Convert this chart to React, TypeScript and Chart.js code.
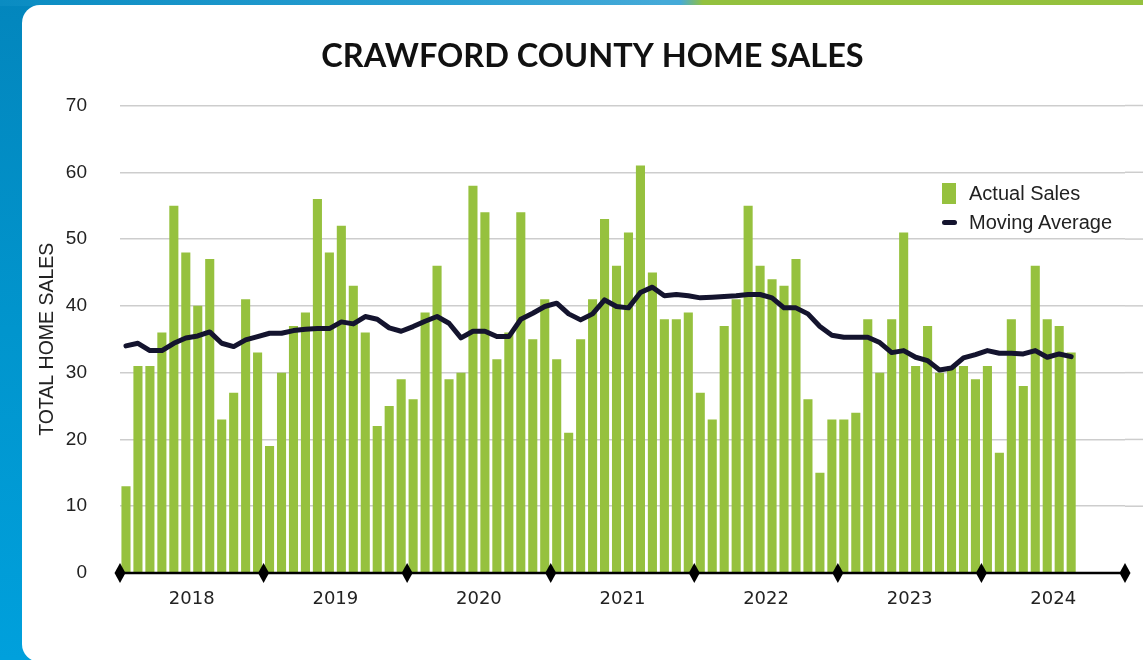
import React, { useEffect, useRef } from "react";
import { Chart, registerables } from "chart.js";

Chart.register(...registerables);

const chartTitle = "CRAWFORD COUNTY HOME SALES";
const yAxisTitle = "TOTAL HOME SALES";
const seriesNames = ["Actual Sales", "Moving Average"];
const years = ["2018", "2019", "2020", "2021", "2022", "2023", "2024"];
const monthNames = ["Jan", "Feb", "Mar", "Apr", "May", "Jun", "Jul", "Aug", "Sep", "Oct", "Nov", "Dec"];
const yTicks = [0, 10, 20, 30, 40, 50, 60, 70];

const sales2018 = [13, 31, 31, 36, 55, 48, 40, 47, 23, 27, 41, 33];
const sales2019 = [19, 30, 37, 39, 56, 48, 52, 43, 36, 22, 25, 29];
const sales2020 = [26, 39, 46, 29, 30, 58, 54, 32, 36, 54, 35, 41];
const sales2021 = [32, 21, 35, 41, 53, 46, 51, 61, 45, 38, 38, 39];
const sales2022 = [27, 23, 37, 41, 55, 46, 44, 43, 47, 26, 15, 23];
const sales2023 = [23, 24, 38, 30, 38, 51, 31, 37, 30, 31, 31, 29];
const sales2024 = [31, 18, 38, 28, 46, 38, 37, 33];

const avg2018 = [34.0, 34.4, 33.3, 33.3, 34.4, 35.2, 35.5, 36.1, 34.4, 33.9, 34.9, 35.4];
const avg2019 = [35.9, 35.9, 36.3, 36.5, 36.6, 36.6, 37.6, 37.3, 38.4, 38.0, 36.7, 36.2];
const avg2020 = [36.9, 37.7, 38.4, 37.4, 35.2, 36.2, 36.2, 35.4, 35.4, 38.0, 38.9, 39.9];
const avg2021 = [40.4, 38.8, 37.9, 38.8, 40.9, 39.9, 39.7, 42.0, 42.8, 41.5, 41.7, 41.5];
const avg2022 = [41.2, 41.3, 41.4, 41.5, 41.7, 41.7, 41.2, 39.7, 39.7, 38.8, 36.9, 35.6];
const avg2023 = [35.3, 35.3, 35.3, 34.5, 33.0, 33.3, 32.3, 31.8, 30.4, 30.7, 32.2, 32.7];
const avg2024 = [33.3, 32.9, 32.9, 32.8, 33.3, 32.3, 32.8, 32.4];

const actualSales = [...sales2018, ...sales2019, ...sales2020, ...sales2021, ...sales2022, ...sales2023, ...sales2024];
const movingAverage = [...avg2018, ...avg2019, ...avg2020, ...avg2021, ...avg2022, ...avg2023, ...avg2024];
const categories = years.flatMap((y) => monthNames.map((m) => `${m} ${y}`));

const GREEN = "#96c13e";
const NAVY = "#14142e";
const GRID = "#cdcdcd";

const axisPlugin = {
  id: "axisDiamonds",
  afterDatasetsDraw(chart: any) {
    const { ctx, chartArea, scales } = chart;
    const x = scales.x;
    const yBottom = chartArea.bottom;
    const half = (x.getPixelForValue(1) - x.getPixelForValue(0)) / 2;
    ctx.save();
    ctx.strokeStyle = "#000";
    ctx.lineWidth = 2.5;
    ctx.beginPath();
    ctx.moveTo(chartArea.left, yBottom);
    ctx.lineTo(chartArea.right, yBottom);
    ctx.stroke();
    ctx.fillStyle = "#000";
    for (let k = 0; k <= years.length; k++) {
      const idx = k * monthNames.length;
      const px = idx < categories.length ? x.getPixelForValue(idx) - half : x.getPixelForValue(categories.length - 1) + half;
      ctx.beginPath();
      ctx.moveTo(px, yBottom - 10);
      ctx.lineTo(px + 5.5, yBottom);
      ctx.lineTo(px, yBottom + 10);
      ctx.lineTo(px - 5.5, yBottom);
      ctx.closePath();
      ctx.fill();
    }
    ctx.restore();
  },
  beforeDatasetsDraw(chart: any) {
    const { ctx, chartArea, scales, width } = chart;
    const y = scales.y;
    ctx.save();
    ctx.strokeStyle = GRID;
    ctx.lineWidth = 1.5;
    y.ticks.forEach((t: any) => {
      if (t.value === 0) return;
      const py = y.getPixelForValue(t.value);
      ctx.beginPath();
      ctx.moveTo(chartArea.right, py);
      ctx.lineTo(width, py);
      ctx.stroke();
    });
    ctx.restore();
  },
};

export default function App() {
  const canvasRef = useRef<HTMLCanvasElement | null>(null);

  useEffect(() => {
    if (!canvasRef.current) return;
    const chart = new Chart(canvasRef.current, {
      type: "bar",
      data: {
        labels: categories,
        datasets: [
          {
            type: "line",
            label: seriesNames[1],
            data: movingAverage,
            borderColor: NAVY,
            backgroundColor: NAVY,
            borderWidth: 5,
            pointRadius: 0,
            tension: 0,
            borderJoinStyle: "round",
            borderCapStyle: "round",
            order: 0,
          } as any,
          {
            type: "bar",
            label: seriesNames[0],
            data: actualSales,
            backgroundColor: GREEN,
            borderWidth: 0,
            barPercentage: 0.76,
            categoryPercentage: 1,
            order: 1,
          },
        ],
      },
      options: {
        animation: false,
        responsive: true,
        maintainAspectRatio: false,
        layout: { padding: { left: 60, right: 18, top: 0, bottom: 0 } },
        plugins: {
          legend: { display: false },
          tooltip: { enabled: false },
          title: {
            display: true,
            text: chartTitle,
            color: "#111",
            font: { family: "Lato", size: 32.5, weight: "bold", lineHeight: 1.2 },
            padding: { top: 37.5, bottom: 29 },
          },
        },
        scales: {
          x: {
            grid: { display: false, drawTicks: false },
            border: { display: false },
            ticks: {
              autoSkip: false,
              maxRotation: 0,
              minRotation: 0,
              padding: 16,
              labelOffset: -6,
              color: "#222",
              font: { family: "DejaVu Sans", size: 18, lineHeight: 1.2 },
              callback: (_v: any, i: number) => (i % 12 === 6 ? years[Math.floor(i / 12)] : ""),
            },
            afterFit: (s: any) => {
              s.height = 87;
            },
          },
          y: {
            min: yTicks[0],
            max: yTicks[yTicks.length - 1],
            grid: { color: GRID, lineWidth: 1.5, drawTicks: false },
            border: { display: false },
            ticks: {
              stepSize: 10,
              padding: 33,
              color: "#222",
              font: { family: "Liberation Sans", size: 19 },
            },
            title: {
              display: true,
              text: yAxisTitle,
              color: "#222",
              font: { family: "Liberation Sans", size: 19.5, lineHeight: 1.2 },
              padding: { top: -24, bottom: 0 },
            },
            afterFit: (s: any) => {
              s.width = 60;
            },
          },
        },
      },
      plugins: [axisPlugin],
    });
    return () => chart.destroy();
  }, []);

  return (
    <div
      style={{
        position: "fixed",
        left: 0,
        top: 0,
        width: 1143,
        height: 660,
        overflow: "hidden",
        background: "linear-gradient(180deg, #0386bd 0%, #0195cd 50%, #00a0dc 100%)",
      }}
    >
      <div
        style={{
          position: "absolute",
          left: 0,
          top: 0,
          width: 1143,
          height: 6,
          background: "linear-gradient(90deg, #0a8cc2 0%, #2b9fd2 40%, #45aad8 58%, #45aad8 59.5%, #93c13e 61.5%, #95c13d 100%)",
        }}
      />
      <div
        style={{
          position: "absolute",
          left: 22,
          top: 5,
          width: 1160,
          height: 657,
          background: "#fff",
          borderRadius: 18,
        }}
      />
      <div style={{ position: "absolute", left: 0, top: 0, width: 1143, height: 660 }}>
        <canvas ref={canvasRef} />
      </div>
      <div
        style={{
          position: "absolute",
          left: 942,
          top: 179,
          fontFamily: "Liberation Sans",
          fontSize: 20,
          color: "#222",
          lineHeight: "28px",
        }}
      >
        <div style={{ display: "flex", alignItems: "center", height: 28 }}>
          <span style={{ display: "inline-block", width: 14, height: 21, background: GREEN, marginRight: 13 }} />
          <span>{seriesNames[0]}</span>
        </div>
        <div style={{ display: "flex", alignItems: "center", height: 28, marginTop: 1 }}>
          <span style={{ display: "inline-block", width: 15, height: 5, borderRadius: 3, background: NAVY, marginRight: 12 }} />
          <span>{seriesNames[1]}</span>
        </div>
      </div>
    </div>
  );
}
